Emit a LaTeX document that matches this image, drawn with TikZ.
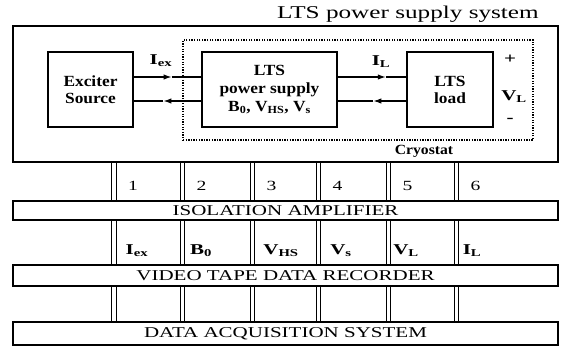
\documentclass[tikz,border=0pt]{standalone}
\usepackage{fontspec}
\setmainfont{Liberation Serif}[FakeStretch=1.4]
\newfontfamily\boxfont{Liberation Serif}[FakeStretch=1.12]
\usetikzlibrary{arrows.meta}
\begin{document}
\begin{tikzpicture}[x=1pt,y=-1pt,
  box/.style={draw,line width=1.2pt,fill=white,inner sep=0pt,align=center,font=\boxfont\fontsize{15.5}{17}\selectfont\bfseries},
  bar/.style={draw,line width=1.2pt,fill=white,inner sep=0pt,minimum width=545pt},
  flow/.style={line width=1.2pt},
  head/.style={line width=1.2pt,-{Latex[length=8pt,width=5.5pt]}},
  dline/.style={line width=0.9pt},
  lbl/.style={font=\fontsize{15}{16}\selectfont\bfseries,inner sep=0pt},
  num/.style={font=\fontsize{14}{16}\selectfont,inner sep=0pt},
  captext/.style={font=\fontsize{15}{17}\selectfont,inner sep=0pt}]
\useasboundingbox (0,0) rectangle (562,353);
% channel x positions
\foreach \i/\x in {1/114,2/182.5,3/252.5,4/318.5,5/388.5,6/456.5}{
  \coordinate (cl\i) at (\x-2.2,0);
  \coordinate (cr\i) at (\x+2.2,0);
}
% outer box and cryostat
\node[draw,line width=1.7pt,minimum width=545pt,minimum height=136pt,inner sep=0pt] (outer) at (285.5,94) {};
\node[draw,line width=1.3pt,dash pattern=on 1.3pt off 1.3pt,minimum width=350pt,minimum height=100pt,inner sep=0pt] (cryo) at (358,90) {};
\node[font=\fontsize{18}{20}\selectfont,inner sep=0pt] (title) at (408,14) {LTS power supply system};
% boxes
\node[box,minimum width=85pt,minimum height=75pt] (exc) at (90.5,89.5) {Exciter\\Source};
\node[box,minimum width=135pt,minimum height=75pt,font=\boxfont\fontsize{15.5}{18}\selectfont\bfseries] (ps) at (269.5,89.5) {LTS\\power supply\\B\textsubscript{0}, V\textsubscript{HS}, V\textsubscript{s}};
\node[box,minimum width=86pt,minimum height=75pt] (load) at (450,89.5) {LTS\\load};
% arrows (heads midway)
\path (exc.east |- 0,77) -- (ps.west |- 0,77) coordinate[pos=0.56] (m1);
\path (ps.west |- 0,101) -- (exc.east |- 0,101) coordinate[pos=0.56] (m2);
\path (ps.east |- 0,77) -- (load.west |- 0,77) coordinate[pos=0.7] (m3);
\path (load.west |- 0,101) -- (ps.east |- 0,101) coordinate[pos=0.48] (m4);
\draw[head] (exc.east |- m1) -- (m1);
\draw[flow] (m1) -- (ps.west |- m1);
\draw[head] (ps.west |- m2) -- (m2);
\draw[flow] (m2) -- (exc.east |- m2);
\draw[head] (ps.east |- m3) -- (m3);
\draw[flow] (m3) -- (load.west |- m3);
\draw[head] (load.west |- m4) -- (m4);
\draw[flow] (m4) -- (ps.east |- m4);
\node[lbl] (lex) at (161,61) {I\textsubscript{ex}};
\node[lbl] (lil) at (381,62) {I\textsubscript{L}};
\node[lbl] (plus) at (510,59) {+};
\node[lbl] (vl) at (514,97) {V\textsubscript{L}};
\node[lbl] (minus) at (510,120) {-};
\node[font=\boxfont\fontsize{14}{14}\selectfont\bfseries,inner sep=0pt] (cryol) at (424,151) {Cryostat};
% bars
\node[bar,minimum height=19pt] (iso) at (285.5,210.5) {};
\node[bar,minimum height=21pt] (vid) at (285.5,275.5) {};
\node[bar,minimum height=23pt] (das) at (285.5,333.5) {};
% channel double lines
\foreach \i in {1,...,6}{
  \draw[dline] (cl\i |- outer.south) -- (cl\i |- iso.north);
  \draw[dline] (cr\i |- outer.south) -- (cr\i |- iso.north);
  \draw[dline] (cl\i |- iso.south) -- (cl\i |- vid.north);
  \draw[dline] (cr\i |- iso.south) -- (cr\i |- vid.north);
  \draw[dline] (cl\i |- vid.south) -- (cl\i |- das.north);
  \draw[dline] (cr\i |- vid.south) -- (cr\i |- das.north);
}
\node[captext] (isot) at (iso) {ISOLATION AMPLIFIER};
\node[captext] (vidt) at (vid) {VIDEO TAPE DATA RECORDER};
\node[captext] (dast) at (das) {DATA ACQUISITION SYSTEM};
% channel numbers
\foreach \i/\x in {1/133,2/201.5,3/271.5,4/337.5,5/407.5,6/475.5}{
  \node[num] (n\i) at (\x,186) {\i};
}
% signal labels
\node[lbl] (s1) at (137,251) {I\textsubscript{ex}};
\node[lbl] (s2) at (201,251) {B\textsubscript{0}};
\node[lbl] (s3) at (281,251) {V\textsubscript{HS}};
\node[lbl] (s4) at (341,251) {V\textsubscript{s}};
\node[lbl] (s5) at (406,251) {V\textsubscript{L}};
\node[lbl] (s6) at (472,251) {I\textsubscript{L}};
\end{tikzpicture}
\end{document}
